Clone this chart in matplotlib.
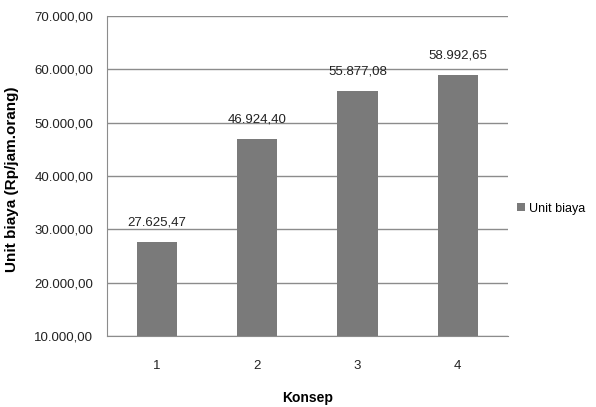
import matplotlib.pyplot as plt
from matplotlib.ticker import FuncFormatter

konsep = ["1", "2", "3", "4"]
unit_biaya = [27625.47, 46924.40, 55877.08, 58992.65]
yticks = [10000, 20000, 30000, 40000, 50000, 60000, 70000]

plt.rcParams["font.family"] = ["Liberation Sans", "DejaVu Sans"]


def idr(v, pos=None):
    s = f"{v:,.2f}"
    return s.replace(",", "X").replace(".", ",").replace("X", ".")


fig = plt.figure(figsize=(5.96, 4.07), dpi=100)
ax = fig.add_axes([0.1795, 0.1744, 0.6725, 0.7863])

x = range(len(konsep))
bars = ax.bar(x, unit_biaya, width=0.4, color="#7a7a7a", label="Unit biaya", zorder=3)

for xi, v in zip(x, unit_biaya):
    ax.annotate(idr(v), (xi, v), xytext=(0, 14), textcoords="offset points",
                ha="center", va="center", fontsize=9.5, color="#222222")

ax.set_xlim(-0.5, len(konsep) - 0.5)
ax.set_ylim(10000, 70000)
ax.set_yticks(yticks)
ax.yaxis.set_major_formatter(FuncFormatter(idr))
ax.set_xticks(list(x))
ax.set_xticklabels(konsep)
ax.tick_params(axis="both", length=0, labelsize=9.5, colors="#222222")
ax.tick_params(axis="y", pad=10)
ax.tick_params(axis="x", pad=17)
ax.grid(axis="y", color="#8c8c8c", linewidth=1, zorder=0)

for side in ["top", "right"]:
    ax.spines[side].set_visible(False)
for side in ["left", "bottom"]:
    ax.spines[side].set_color("#8c8c8c")

ax.set_xlabel("Konsep", fontsize=10, fontweight="bold")
ax.set_ylabel("Unit biaya (Rp/jam.orang)", fontsize=11, fontweight="bold")
ax.xaxis.label.set_va("center")
ax.yaxis.label.set_va("center")
ax.xaxis.set_label_coords(0.5, -0.195)
ax.yaxis.set_label_coords(-0.237, 0.49)

fig.legend(handles=[bars], labels=["Unit biaya"], loc="center left",
           bbox_to_anchor=(0.868, 0.487), frameon=False, fontsize=9,
           handlelength=0.6, handleheight=0.6, handletextpad=0.3,
           borderpad=0, borderaxespad=0)

fig.savefig("out.png", dpi=100)
